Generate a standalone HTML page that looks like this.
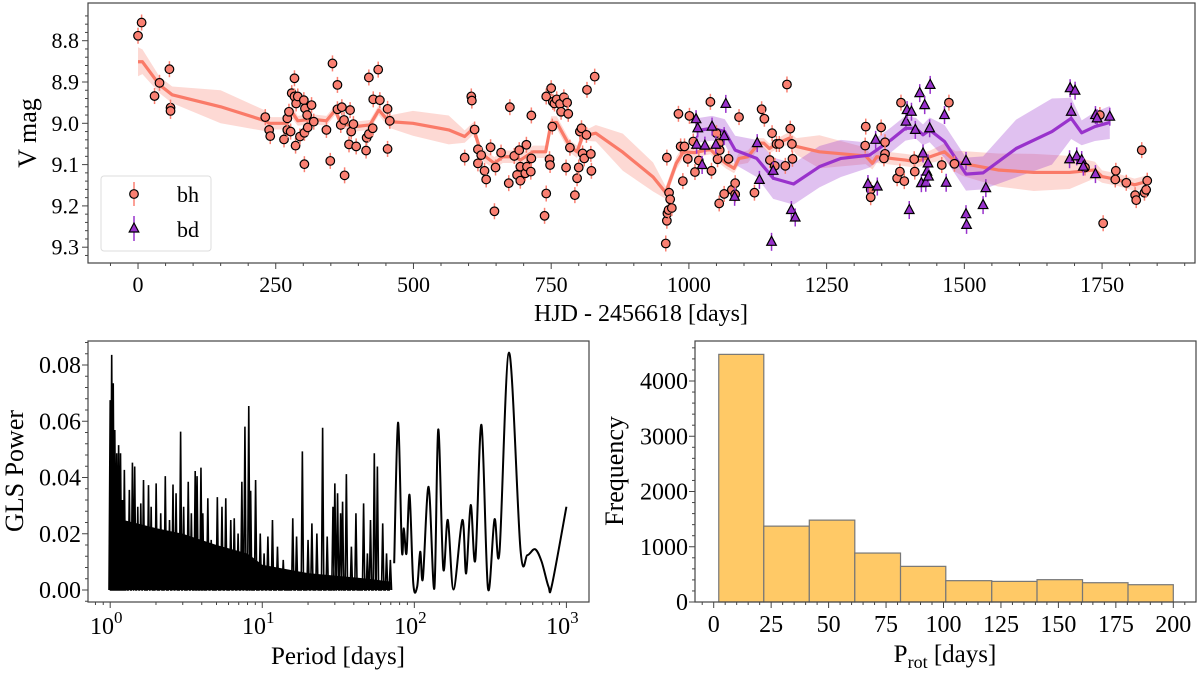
<!DOCTYPE html>
<html><head><meta charset="utf-8">
<style>
html,body{margin:0;padding:0;background:#fff;}
svg{display:block;font-family:"Liberation Serif","Times New Roman",serif;}
</style></head>
<body>
<svg id="fig" width="1200" height="675" viewBox="0 0 1200 675" xmlns="http://www.w3.org/2000/svg">
<g id="top"></g>
<g id="gls"></g>
<g id="hist"></g>
</svg>
<script>
// ===== Light curve data =====
const bhDays=[0,6.5,30,39,57,59,59,231,238,240,265,271,271,274,277,279,284,284,286,287,290,294,301,302,302,303,307,308,315,319,342,349,353,362,362,368,370,374,375,383,385,387,391,396,414,415,419,419,426,427,436,439,453,453,457,593,605,606,611,617,617,623,629,632,640,647,649,659,673,675,683,688,692,694,694,703,705,706,713,714,714,738,741,741,747,748,750,752,753,756,760,766,768,773,777,779,781,784,793,797,800,802,805,807,810,814,815,822,823,829,
958,960,961,963,964,966,969,960,981,985,989,992,998,1001,1008,1011,1018,1039,1041,1050,1052,1055,1056,1055,1064,1072,1078,1084,1084,1091,1119,1132,1137,1147,1151,1156,1159,1164,1175,1178,1184,1188,1187,1321,1320,1330,1330,1349,1356,1356,1354,1378,1383,1391,1385,1409,1410,1459,1472,1482,1719,1746,1752,1774,1775,1794,1810,1812,1822,1827,1830,1832];
const bhMags=[8.788,8.756,8.934,8.902,8.869,8.962,8.970,8.985,9.016,9.031,9.039,9.016,8.988,8.972,9.020,8.927,8.891,8.935,9.054,8.952,8.935,9.032,8.944,9.023,9.099,8.964,8.980,9.010,8.956,8.996,9.016,9.091,8.855,8.907,8.966,9.004,8.961,8.992,9.126,9.051,8.968,9.020,9.002,9.056,9.066,9.035,8.889,9.026,9.012,8.942,8.870,8.944,8.965,9.062,8.994,9.083,8.935,8.945,9.015,9.063,9.097,9.077,9.115,9.136,9.058,9.213,9.107,9.071,9.145,8.961,9.079,9.125,9.065,9.105,9.139,9.121,9.052,9.105,9.117,8.981,9.085,9.224,9.170,8.935,9.087,9.101,8.915,9.008,8.948,8.952,8.942,8.953,8.972,8.937,9.107,8.950,8.977,9.059,9.174,9.133,9.107,9.020,9.012,9.073,9.085,9.028,8.919,9.074,9.115,8.887,
9.291,9.236,9.218,9.210,9.168,9.184,9.205,9.083,8.977,9.056,9.140,9.056,9.086,8.982,9.044,9.118,9.090,8.948,9.115,9.024,9.087,9.048,9.065,9.194,9.171,9.086,9.161,9.145,9.172,8.985,9.168,8.966,8.989,9.089,9.024,9.103,9.050,9.050,9.103,8.906,9.013,9.086,9.050,9.008,9.054,9.161,9.179,9.010,9.046,9.074,9.085,9.133,9.117,9.140,8.950,9.087,9.117,9.101,8.950,9.098,9.107,8.980,9.242,9.136,9.115,9.144,9.174,9.186,9.065,9.168,9.161,9.139];
const bdDays=[1013,1016,1014,1024,1029,1042,1049,1067,1064,1083,1124,1128,1153,1150,1186,1193,1325,1339,1342,1394,1396,1400,1404,1411,1419,1422,1425,1428,1430,1432,1434,1435,1438,1437,1464,1467,1503,1503,1504,1534,1539,1692,1701,1694,1691,1704,1713,1716,1738,1741,1738,1764];
const bdMags=[8.990,9.012,9.052,9.101,9.054,9.008,9.052,8.953,9.031,9.178,9.048,9.137,9.115,9.287,9.210,9.228,9.147,9.040,9.153,8.996,8.968,9.210,8.972,9.016,8.927,9.145,9.073,8.956,9.144,9.117,9.097,9.129,8.907,9.012,8.980,9.144,9.091,9.220,9.246,9.198,9.157,8.915,8.921,8.972,9.087,9.080,9.089,9.105,8.980,8.988,9.123,8.984];
const bhLineDays=[0,8,39,62,150,231,238,271,279,290,316,342,358,368,394,421,437,456,499,564,593,609,623,647,662,685,694,717,740,750,760,784,797,810,818,831,880,935,958,977,990,1010,1039,1052,1068,1082,1091,1107,1127,1136,1146,1162,1182,1195,1237,1321,1333,1341,1367,1393,1412,1438,1464,1484,1496,1561,1626,1691,1737,1750,1776,1809,1831];
const bhLineMags=[8.851,8.851,8.907,8.931,8.960,8.994,9.0,9.0,8.972,8.994,8.990,8.994,8.968,9.0,9.008,9.004,8.968,8.996,9.0,9.016,9.032,9.012,9.073,9.097,9.081,9.081,9.089,9.069,9.069,8.998,8.998,9.056,9.069,9.020,9.028,9.024,9.070,9.130,9.168,9.097,9.069,9.071,9.063,9.081,9.098,9.109,9.085,9.081,9.048,9.048,9.061,9.048,9.036,9.056,9.069,9.079,9.097,9.081,9.085,9.089,9.093,9.081,9.069,9.093,9.097,9.113,9.119,9.119,9.113,9.129,9.136,9.149,9.141];
const bhLineSig=[0.035,0.03,0.02,0.02,0.04,0.025,0.015,0.015,0.015,0.012,0.012,0.012,0.012,0.012,0.012,0.012,0.012,0.015,0.03,0.035,0.015,0.015,0.015,0.015,0.015,0.015,0.015,0.015,0.015,0.015,0.015,0.015,0.015,0.015,0.015,0.02,0.045,0.035,0.015,0.015,0.015,0.012,0.012,0.012,0.012,0.012,0.015,0.015,0.012,0.012,0.012,0.012,0.015,0.02,0.04,0.02,0.015,0.015,0.015,0.015,0.015,0.015,0.02,0.025,0.03,0.04,0.045,0.04,0.02,0.015,0.015,0.015,0.015];
const bdLineDays=[1013,1042,1065,1084,1123,1153,1190,1237,1276,1328,1367,1393,1412,1425,1437,1464,1503,1534,1594,1659,1694,1713,1737,1764];
const bdLineMags=[9.018,9.012,9.020,9.065,9.085,9.133,9.147,9.105,9.085,9.077,9.040,9.012,9.012,9.028,9.016,9.044,9.123,9.120,9.061,9.020,8.988,9.023,9.008,8.998];
const bdLineSig=[0.03,0.03,0.03,0.035,0.045,0.05,0.05,0.05,0.045,0.03,0.03,0.03,0.025,0.025,0.03,0.04,0.04,0.04,0.07,0.08,0.05,0.03,0.035,0.04];
const topXTicks=[0,250,500,750,1000,1250,1500,1750];
const topYTicks=[8.8,8.9,9.0,9.1,9.2,9.3];

// ===== Periodogram data =====
const glsPeakPeriods=[1.00,1.023,1.047,1.072,1.104,1.136,1.169,1.204,1.239,1.276,1.336,1.400,1.449,1.518,1.589,1.656,1.786,1.859,2.005,2.149,2.303,2.455,2.588,2.711,2.904,3.041,3.260,3.417,3.622,3.726,3.952,4.065,4.385,4.616,5.065,5.432,5.754,6.206,6.542,6.934,7.341,7.691,8.150,8.387,9.040,9.700,10.28,10.89,11.67,12.59,13.74,15.87,16.81,18.35,20.00,21.20,22.86,24.94,26.73,29.17,30.01,31.27,32.75,33.74,35.73,38.55,41.30,46.38,49.13,51.49,54.54,57.15,61.94,65.64,69.55];
const glsPeakPowers=[0.0675,0.0836,0.0735,0.0569,0.0486,0.0515,0.0486,0.0320,0.0427,0.0237,0.0356,0.0453,0.0439,0.0296,0.0308,0.0391,0.0373,0.0296,0.0379,0.0273,0.0405,0.0249,0.0375,0.0344,0.0563,0.0296,0.0385,0.0273,0.0423,0.0405,0.0435,0.0273,0.0326,0.0178,0.0330,0.0296,0.0326,0.0249,0.0255,0.0201,0.0385,0.0581,0.0654,0.0353,0.0391,0.0201,0.0130,0.0190,0.0249,0.0154,0.0107,0.0255,0.0190,0.0493,0.0178,0.0237,0.0201,0.0577,0.0190,0.0296,0.0379,0.0344,0.0273,0.0314,0.0412,0.0154,0.0273,0.0308,0.0130,0.0249,0.0486,0.0439,0.0237,0.0130,0.0107];
const glsFloorPeriods=[1,1.2,2,3,5,8,10,20,50,70];
const glsFloorPowers=[0.035,0.025,0.022,0.020,0.016,0.013,0.009,0.006,0.004,0.003];
const glsSmoothPeriods=[73.7,78.1,82.8,85.3,88.8,93.0,98.4,104.4,109.3,113.8,124.1,135.4,143.6,154.9,166.0,181.0,206.8,219.1,234.8,251.8,276.3,304.9,336.6,363.1,419.4,499.2,554.3,622.2,686.9,762.6,803.6,1000];
const glsSmoothPowers=[0.0095,0.0595,0.0142,0.0219,0.0130,0.0338,0.0024,0.0012,0.0136,0.0041,0.0367,0.0006,0.0571,0.0077,0.0249,0.0002,0.0249,0.0059,0.0302,0.0107,0.0587,0.0006,0.0251,0.0136,0.0844,0.0142,0.0124,0.0145,0.0101,0.0012,0.0018,0.0296];
const glsYTicks=[0,0.02,0.04,0.06,0.08];
const glsYTickLabels=["0.00","0.02","0.04","0.06","0.08"];
const glsXTickExps=[0,1,2,3];

// ===== Histogram data =====
const histEdges=[2.2,21.8,41.6,61.4,81.3,101,121,140.7,160.5,180.3,200];
const histCounts=[4482,1373,1482,886,645,386,373,404,349,313];
const histXTicks=[0,25,50,75,100,125,150,175,200];
const histYTicks=[0,1000,2000,3000,4000];

const NS="http://www.w3.org/2000/svg";
function mk(parent,tag,attrs,text){const e=document.createElementNS(NS,tag);for(const k in attrs)e.setAttribute(k,attrs[k]);if(text!==undefined)e.textContent=text;parent.appendChild(e);return e;}

// ---------- Top panel ----------
(function(){
  const g=document.getElementById('top');
  const L=88,R=1195,T=3,B=263;
  const d0=-90.8,d1=1918.7;
  const X=d=>L+(d-d0)/(d1-d0)*(R-L);
  const Y=m=>123.3+(m-9.0)*413;
  const cp=mk(g,'clipPath',{id:'topclip'});mk(cp,'rect',{x:L,y:T,width:R-L,height:B-T});
  const pg=mk(g,'g',{'clip-path':'url(#topclip)'});
  
  
  function band(days,mags,sig,color,name){
    let up=days.map((d,i)=>X(d)+','+Y(mags[i]-sig[i]));
    let dn=days.map((d,i)=>X(d)+','+Y(mags[i]+sig[i])).reverse();
    const p=mk(pg,'polygon',{points:up.concat(dn).join(' '),fill:color,'fill-opacity':0.3,stroke:'none'});
    
    
  }
  function line(days,mags,color,name){
    const p=mk(pg,'polyline',{points:days.map((d,i)=>X(d)+','+Y(mags[i])).join(' '),fill:'none',stroke:color,'stroke-width':3.2,'stroke-linejoin':'round'});
    
    
  }
  band(bhLineDays,bhLineMags,bhLineSig,'#fa8072','bh-gp-band');
  band(bdLineDays,bdLineMags,bdLineSig,'#9932cc','bd-gp-band');
  line(bhLineDays,bhLineMags,'#fa7a68','bh-gp-mean-line');
  line(bdLineDays,bdLineMags,'#9932cc','bd-gp-mean-line');
  bhDays.forEach((d,i)=>{
    const x=X(d),y=Y(bhMags[i]);
    const eb=mk(pg,'line',{x1:x,x2:x,y1:y-8,y2:y+8,stroke:'#fa8072','stroke-width':1.5});
    
    
    const c=mk(pg,'circle',{cx:x,cy:y,r:4.3,fill:'#fa8072',stroke:'#000','stroke-width':1.2});
    
    
  });
  bdDays.forEach((d,i)=>{
    const x=X(d),y=Y(bdMags[i]);
    const eb=mk(pg,'line',{x1:x,x2:x,y1:y-9,y2:y+9,stroke:'#9932cc','stroke-width':1.5});
    
    
    const t=mk(pg,'polygon',{points:`${x},${y-5.5} ${x-4.8},${y+3.5} ${x+4.8},${y+3.5}`,fill:'#9932cc',stroke:'#000','stroke-width':1.2});
    
    
  });
  const fr=mk(g,'rect',{x:L,y:T,width:R-L,height:B-T,fill:'none',stroke:'#444','stroke-width':1.2});
  
  
  for(let d=-50;d<=1900;d+=50){const x=X(d);mk(g,'line',{x1:x,x2:x,y1:B,y2:B+(d%250===0?6:3),stroke:'#444','stroke-width':1});}
  topXTicks.forEach(d=>{
    const t=mk(g,'text',{x:X(d),y:B+29,'font-size':22,'text-anchor':'middle',fill:'#000'},String(d));
    
    
  });
  for(let m=8.74;m<=9.36;m+=0.02){const y=Y(m);if(y<T||y>B)continue;const major=Math.abs(Math.round(m*10)-m*10)<1e-6;mk(g,'line',{x1:L,x2:L-(major?6:3),y1:y,y2:y,stroke:'#444','stroke-width':1});}
  topYTicks.forEach(m=>{
    const t=mk(g,'text',{x:L-9,y:Y(m)+7.5,'font-size':22,'text-anchor':'end',fill:'#000'},m.toFixed(1));
    
    
  });
  const xt=mk(g,'text',{x:641,y:321,'font-size':24,'text-anchor':'middle',fill:'#000'},'HJD - 2456618 [days]');
  
  
  const yt=mk(g,'text',{x:0,y:0,'font-size':26,'text-anchor':'middle',fill:'#000',transform:'translate(36,133) rotate(-90)'},'V mag');
  
  
  const lg=mk(g,'g',{});
  
  
  mk(lg,'rect',{x:101,y:176,width:110,height:75,rx:3,fill:'#fff','fill-opacity':0.85,stroke:'#ddd','stroke-width':1});
  const e1=mk(lg,'g',{});
  
  
  mk(e1,'line',{x1:134,x2:134,y1:182,y2:206,stroke:'#fa8072','stroke-width':1.5});
  mk(e1,'circle',{cx:134,cy:194,r:4.3,fill:'#fa8072',stroke:'#000','stroke-width':1.2});
  mk(e1,'text',{x:177,y:202,'font-size':22,fill:'#000'},'bh');
  const e2=mk(lg,'g',{});
  
  
  mk(e2,'line',{x1:134,x2:134,y1:216,y2:241,stroke:'#9932cc','stroke-width':1.5});
  mk(e2,'polygon',{points:'134,223 129.2,232 138.8,232',fill:'#9932cc',stroke:'#000','stroke-width':1.2});
  mk(e2,'text',{x:177,y:237,'font-size':22,fill:'#000'},'bd');
})();

// ---------- Periodogram ----------
(function(){
  const g=document.getElementById('gls');
  const L=88,R=589,T=341,B=602;
  const X=p=>110.2+Math.log10(p)*152.07;
  const Y=v=>590-v*2812.5;
  const cp=mk(g,'clipPath',{id:'glsclip'});mk(cp,'rect',{x:L,y:T,width:R-L,height:B-T});
  const pg=mk(g,'g',{'clip-path':'url(#glsclip)'});
  let fl=glsFloorPeriods.map((p,i)=>X(p)+','+Y(glsFloorPowers[i]));
  fl.push(X(glsFloorPeriods[glsFloorPeriods.length-1])+','+Y(0));fl.push(X(glsFloorPeriods[0])+','+Y(0));
  const f=mk(pg,'polygon',{points:fl.join(' '),fill:'#000'});
  
  
  let pts=[];
  glsPeakPeriods.forEach((p,i)=>{
    const x=X(p);
    pts.push((x-1.2)+','+Y(0));pts.push(x+','+Y(glsPeakPowers[i]));pts.push((x+1.2)+','+Y(0));
  });
  const sp=mk(pg,'polyline',{points:pts.join(' '),fill:'none',stroke:'#000','stroke-width':1.6,'stroke-linejoin':'miter'});
  
  
  const P=glsSmoothPeriods.map((p,i)=>[X(p),Y(glsSmoothPowers[i])]);
  let d='M'+P[0][0]+','+P[0][1];
  for(let i=0;i<P.length-1;i++){
    const p0=P[Math.max(0,i-1)],p1=P[i],p2=P[i+1],p3=P[Math.min(P.length-1,i+2)];
    const c1=[p1[0]+(p2[0]-p0[0])/6,p1[1]+(p2[1]-p0[1])/6];
    const c2=[p2[0]-(p3[0]-p1[0])/6,p2[1]-(p3[1]-p1[1])/6];
    d+=` C${c1[0]},${c1[1]} ${c2[0]},${c2[1]} ${p2[0]},${p2[1]}`;
  }
  const sm=mk(pg,'path',{d:d,fill:'none',stroke:'#000','stroke-width':2});
  
  
  const fr=mk(g,'rect',{x:L,y:T,width:R-L,height:B-T,fill:'none',stroke:'#444','stroke-width':1.2});
  
  
  for(let e=-1;e<=3;e++){for(let k=1;k<10;k++){const x=X(k*Math.pow(10,e));if(x<L||x>R)continue;mk(g,'line',{x1:x,x2:x,y1:B,y2:B+(k===1?6:3),stroke:'#444','stroke-width':1});}}
  glsXTickExps.forEach(e=>{
    const t=mk(g,'text',{x:X(Math.pow(10,e))-4,y:B+32,'font-size':24,'text-anchor':'middle',fill:'#000'});
    
    
    mk(t,'tspan',{},'10');
    mk(t,'tspan',{dy:-11,'font-size':17},String(e));
  });
  for(let v=-0.004;v<=0.09;v+=0.004){const y=Y(v);if(y<T||y>B)continue;const major=Math.abs(Math.round(v/0.02)*0.02-v)<1e-6;mk(g,'line',{x1:L,x2:L-(major?6:3),y1:y,y2:y,stroke:'#444','stroke-width':1});}
  glsYTicks.forEach((v,i)=>{
    const t=mk(g,'text',{x:L-7,y:Y(v)+8,'font-size':24,'text-anchor':'end',fill:'#000'},glsYTickLabels[i]);
    
    
  });
  const xt=mk(g,'text',{x:338,y:664,'font-size':25,'text-anchor':'middle',fill:'#000'},'Period [days]');
  
  
  const yt=mk(g,'text',{x:0,y:0,'font-size':26,'text-anchor':'middle',fill:'#000',transform:'translate(23,471) rotate(-90)'},'GLS Power');
  
  
})();

// ---------- Histogram ----------
(function(){
  const g=document.getElementById('hist');
  const L=695,R=1196,T=341,B=602;
  const X=v=>713.7+v*2.298;
  const Y=c=>602-c*0.05525;
  histCounts.forEach((c,i)=>{
    const x0=X(histEdges[i]),x1=X(histEdges[i+1]);
    const r=mk(g,'rect',{x:x0,y:Y(c),width:x1-x0,height:Y(0)-Y(c),fill:'#ffc966',stroke:'#777','stroke-width':1.2});
    
    
  });
  const fr=mk(g,'rect',{x:L,y:T,width:R-L,height:B-T,fill:'none',stroke:'#444','stroke-width':1.2});
  
  
  for(let v=-5;v<=205;v+=5){const x=X(v);if(x<L||x>R)continue;mk(g,'line',{x1:x,x2:x,y1:B,y2:B+(v%25===0?6:3),stroke:'#444','stroke-width':1});}
  histXTicks.forEach(v=>{
    const t=mk(g,'text',{x:X(v),y:B+30,'font-size':24,'text-anchor':'middle',fill:'#000'},String(v));
    
    
  });
  for(let c=0;c<=4600;c+=200){const y=Y(c);if(y<T)continue;mk(g,'line',{x1:L,x2:L-(c%1000===0?6:3),y1:y,y2:y,stroke:'#444','stroke-width':1});}
  histYTicks.forEach(c=>{
    const t=mk(g,'text',{x:L-7,y:Y(c)+8,'font-size':24,'text-anchor':'end',fill:'#000'},String(c));
    
    
  });
  const xt=mk(g,'text',{x:945,y:662,'font-size':25,'text-anchor':'middle',fill:'#000'});
  
  
  mk(xt,'tspan',{},'P');
  mk(xt,'tspan',{dy:6,'font-size':18},'rot');
  mk(xt,'tspan',{dy:-6},' [days]');
  const yt=mk(g,'text',{x:0,y:0,'font-size':26,'text-anchor':'middle',fill:'#000',transform:'translate(623,471) rotate(-90)'},'Frequency');
  
  
})();
</script>
</body></html>
